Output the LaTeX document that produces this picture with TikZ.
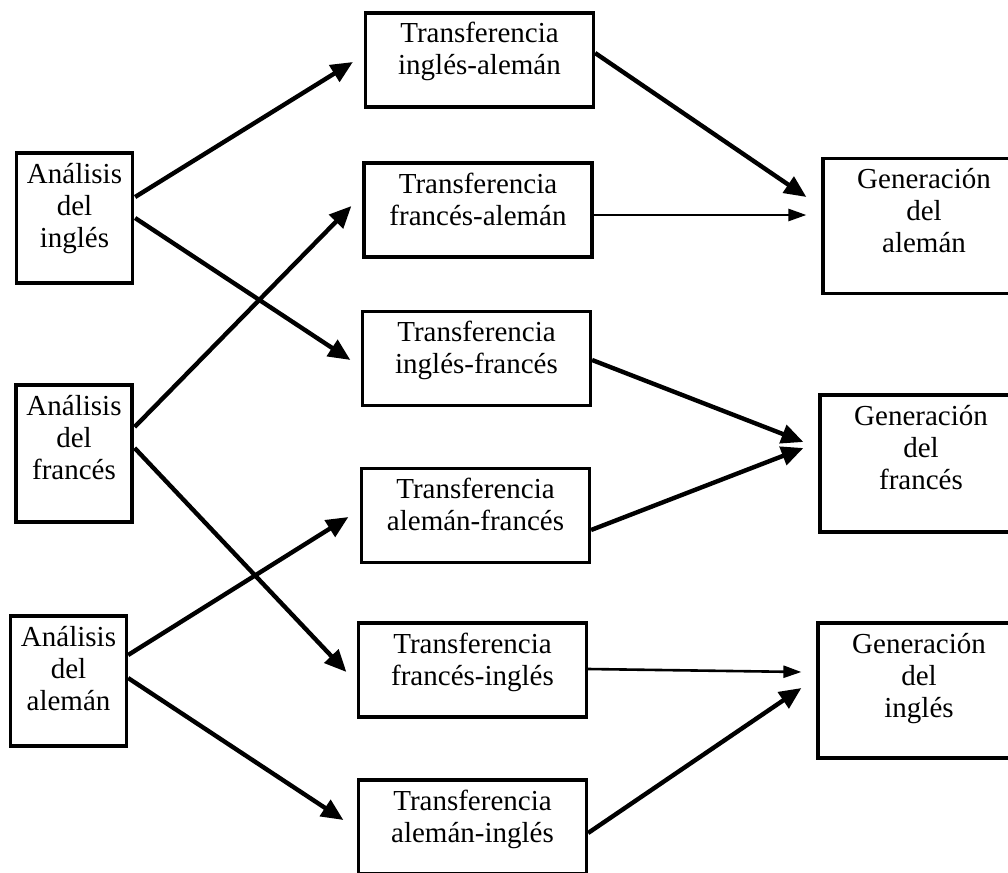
\documentclass[tikz,border=0pt]{standalone}
\usepackage{fontspec}
\setmainfont{Liberation Serif}
\usetikzlibrary{calc,arrows.meta}

\tikzset{
	caja/.style={draw, line width=3.2pt, align=center, inner sep=0pt,
		font=\fontsize{29}{32}\selectfont, text depth=5pt},
	analisis/.style={caja, minimum width=116pt, minimum height=130pt, text height=63pt},
	transfer/.style={caja, minimum width=228pt, minimum height=94pt, text height=35pt},
	generacion/.style={caja, minimum width=202pt, minimum height=135pt, text height=58pt},
	flecha/.style={line width=4.4pt, -{Triangle[length=22pt,width=19pt]}},
	flechita/.style={line width=2.6pt, -{Triangle[length=18pt,width=12pt]}}
}

\begin{document}
\begin{tikzpicture}[x=1pt, y=-1pt]
		%%%%% START %%%%%
		\useasboundingbox (0, 0) rectangle (1008, 872);
		
		% analisis
		\node[analisis] (aing) at (74.5, 218) {Análisis\\del\\inglés};
		\node[analisis, minimum height=137pt, text height=56pt] (afra) at (74, 453.5) {Análisis\\del\\francés};
		\node[analisis] (aale) at (68.5, 681) {Análisis\\del\\alemán};
		
		% transferencia
		\node[transfer] (tia) at (479.5, 60) {Transferencia\\inglés-alemán};
		\node[transfer] (tfa) at (478, 210) {Transferencia\\francés-alemán};
		\node[transfer] (tif) at (476.5, 358.5) {Transferencia\\inglés-francés};
		\node[transfer] (taf) at (475.5, 515.5) {Transferencia\\alemán-francés};
		\node[transfer] (tfi) at (472.5, 670) {Transferencia\\francés-inglés};
		\node[transfer] (tai) at (472.5, 827) {Transferencia\\alemán-inglés};
		
		% generacion
		\node[generacion] (gale) at (924, 226) {Generación\\del\\alemán};
		\node[generacion, minimum height=137pt, text height=56pt] (gfra) at (921, 463.5) {Generación\\del\\francés};
		\node[generacion] (ging) at (919, 690.5) {Generación\\del\\inglés};
		
		% analisis -> transferencia
		\draw[flecha] ($(aing.east)+(1, -21)$) -- ($(tia.west)+(-11, 2)$);
		\draw[flecha] ($(aing.east)+(1, 0)$) -- ($(tif.west)+(-10.5, 1.5)$);
		\draw[flecha] ($(afra.east)+(1, -26.5)$) -- ($(tfa.west)+(-11, -4)$);
		\draw[flecha] ($(afra.east)+(1, -5.5)$) -- ($(tfi.west)+(-10.5, 2)$);
		\draw[flecha] ($(aale.east)+(0, -26)$) -- ($(taf.west)+(-11.5, 1.5)$);
		\draw[flecha] ($(aale.east)+(0, -3)$) -- ($(tai.west)+(-13.5, -7)$);
		
		% transferencia -> generacion
		\draw[flecha] ($(tia.east)+(0, -7)$) -- ($(gale.west)+(-15, -29)$);
		\draw[flechita] ($(tfa.east)+(0, 5)$) -- ($(gale.west)+(-15, -11)$);
		\draw[flecha] ($(tif.east)+(0, 1.5)$) -- ($(gfra.west)+(-15, -21.5)$);
		\draw[flecha] ($(taf.east)+(0, 14.5)$) -- ($(gfra.west)+(-15, -15.5)$);
		\draw[flechita] ($(tfi.east)+(0, -1)$) -- ($(ging.west)+(-15, -18.5)$);
		\draw[flecha] ($(tai.east)+(0, 6)$) -- ($(ging.west)+(-15, -2.5)$);
		
		%%%%% END %%%%%
\end{tikzpicture}
\end{document}
